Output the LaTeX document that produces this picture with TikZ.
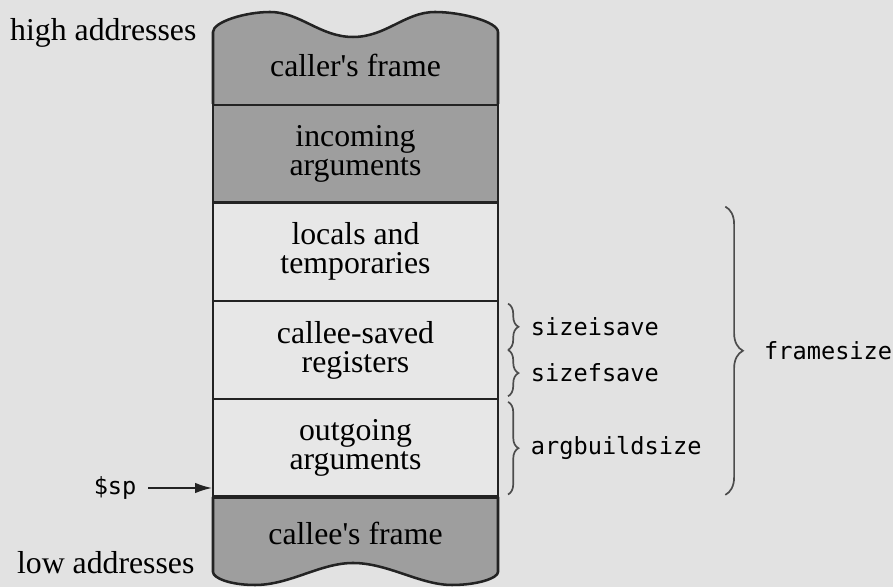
\documentclass[tikz,border=0pt]{standalone}
\usepackage{fontspec}
\setmainfont{Liberation Serif}
\setmonofont{DejaVu Sans Mono}
\usetikzlibrary{arrows.meta,positioning,decorations.pathreplacing}
\definecolor{pagegray}{RGB}{226,226,226}
\definecolor{paleframe}{RGB}{231,231,231}
\definecolor{darkframe}{RGB}{158,158,158}
\definecolor{inkblack}{RGB}{35,35,35}
\newcommand{\boxfont}{\fontsize{11.3pt}{10.3pt}\selectfont}
\newcommand{\codefont}{\ttfamily\fontsize{8.4pt}{10pt}\selectfont}
\tikzset{
  stackcell/.style={rectangle, draw=inkblack, line width=0.9pt, outer sep=0pt, inner sep=0pt,
    minimum width=3.5625cm, minimum height=1.2275cm, align=center, font=\boxfont},
  darkbox/.style={stackcell, fill=darkframe},
  lightbox/.style={stackcell, fill=paleframe},
  torn/.style={draw=inkblack, line width=0.9pt, line join=round},
  sidetext/.style={inner sep=0pt, font=\boxfont},
  codelabel/.style={inner sep=0pt, font=\codefont},
  bracepen/.style={draw=black!70, line width=0.6pt, decorate, decoration={brace, amplitude=0.13cm}},
  bigbrace/.style={draw=black!70, line width=0.6pt, decorate, decoration={brace, amplitude=0.22cm}},
  ptr/.style={-{Latex[length=2.1mm,width=1.3mm]}, line width=0.6pt, inkblack}
}
\begin{document}
\begin{tikzpicture}[x=0.0125cm, y=-0.0125cm]
  \useasboundingbox (0,0) rectangle (893,587);
  \fill[pagegray] (0,0) rectangle (893,587);

  % frames in the middle of the stack
  \node[darkbox] (incoming) at (355.5,153.5) {incoming\\arguments};
  \node[lightbox, below=0pt of incoming] (locals) {locals and\\temporaries};
  \node[lightbox, below=0pt of locals] (saved) {callee-saved\\registers};
  \node[lightbox, below=0pt of saved] (outgoing) {outgoing\\arguments};

  % torn ends
  \filldraw[torn, fill=darkframe] (213,104) -- (213,32)
    .. controls (213,22) and (245,12) .. (270,12)
    .. controls (300,12) and (320,37) .. (353,37)
    .. controls (386,37) and (405,12) .. (435,12)
    .. controls (462,12) and (498,22) .. (498,32) -- (498,104);
  \node[sidetext] (caller) at (355.5,65) {caller\textquotesingle s frame};
  \filldraw[torn, fill=darkframe] (213,497) -- (213,572)
    .. controls (213,578) and (230,585) .. (255,585)
    .. controls (290,585) and (320,563) .. (353,563)
    .. controls (388,563) and (420,585) .. (452,585)
    .. controls (478,585) and (498,578) .. (498,572) -- (498,497);
  \node[sidetext] (callee) at (355.5,533) {callee\textquotesingle s frame};
  \draw[torn, line width=1.4pt] (outgoing.south west) -- (outgoing.south east);

  % left labels
  \node[sidetext, anchor=east] (high) at (197,33) {high addresses};
  \node[sidetext, anchor=east] (low) at (195,563) {low addresses};
  \node[codelabel, anchor=east] (sp) at (137,488) {\$sp};
  \coordinate (sptip) at (212,488);
  \draw[ptr, shorten <=0.14cm] (sp) -- (sptip);

  % size braces
  \draw[bracepen] ([xshift=0.125cm,yshift=-1pt]saved.north east) --
    node[codelabel, right=0.275cm] (isave) {sizeisave} ([xshift=0.125cm]saved.east);
  \draw[bracepen] ([xshift=0.125cm]saved.east) --
    node[codelabel, right=0.275cm] (fsave) {sizefsave} ([xshift=0.125cm,yshift=1pt]saved.south east);
  \draw[bracepen] ([xshift=0.125cm,yshift=-1pt]outgoing.north east) --
    node[codelabel, right=0.275cm] (argbuild) {argbuildsize} ([xshift=0.125cm,yshift=1pt]outgoing.south east);
  \draw[bigbrace] ([xshift=2.84cm,yshift=-0.05cm]locals.north east) --
    node[codelabel, right=0.475cm] (frame) {framesize} ([xshift=2.84cm,yshift=0.03cm]outgoing.south east);
\end{tikzpicture}
\end{document}
